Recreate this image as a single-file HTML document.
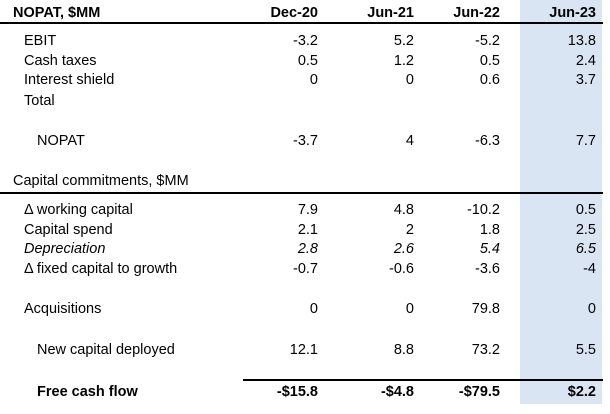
<!DOCTYPE html>
<html><head><style>
body{margin:0;width:610px;height:414px;background:#fff;font-family:"Liberation Sans",Arial,sans-serif;font-size:14.5px;color:#000;position:relative;overflow:hidden}
.hl{position:absolute;left:520px;top:0;width:82px;height:404px;background:#dae5f3}
.r{position:absolute;left:0;width:610px;height:18px}
.r span{position:absolute;top:0;line-height:18px;white-space:nowrap}
.l{left:24px}
.c1{right:292px}.c2{right:196px}.c3{right:110px}.c4{right:14px}
.b{font-weight:bold}.i{font-style:italic}
.line{position:absolute;background:#000}
</style></head><body>
<div class="hl"></div>
<div class="line" style="left:0;top:22px;width:603px;height:2px"></div>
<div class="line" style="left:0;top:192px;width:603px;height:2px"></div>
<div class="line" style="left:243px;top:379px;width:360px;height:2px"></div>

<div class="r b" style="top:4px"><span style="left:13px">NOPAT, $MM</span><span class="c1">Dec-20</span><span class="c2">Jun-21</span><span class="c3">Jun-22</span><span class="c4">Jun-23</span></div>
<div class="r" style="top:32px"><span class="l">EBIT</span><span class="c1">-3.2</span><span class="c2">5.2</span><span class="c3">-5.2</span><span class="c4">13.8</span></div>
<div class="r" style="top:52px"><span class="l">Cash taxes</span><span class="c1">0.5</span><span class="c2">1.2</span><span class="c3">0.5</span><span class="c4">2.4</span></div>
<div class="r" style="top:71px"><span class="l">Interest shield</span><span class="c1">0</span><span class="c2">0</span><span class="c3">0.6</span><span class="c4">3.7</span></div>
<div class="r" style="top:92px"><span class="l">Total</span></div>
<div class="r" style="top:132px"><span style="left:37px">NOPAT</span><span class="c1">-3.7</span><span class="c2">4</span><span class="c3">-6.3</span><span class="c4">7.7</span></div>
<div class="r" style="top:172px"><span style="left:13px">Capital commitments, $MM</span></div>
<div class="r" style="top:201px"><span class="l">Δ working capital</span><span class="c1">7.9</span><span class="c2">4.8</span><span class="c3">-10.2</span><span class="c4">0.5</span></div>
<div class="r" style="top:221px"><span class="l">Capital spend</span><span class="c1">2.1</span><span class="c2">2</span><span class="c3">1.8</span><span class="c4">2.5</span></div>
<div class="r i" style="top:240px"><span class="l">Depreciation</span><span class="c1">2.8</span><span class="c2">2.6</span><span class="c3">5.4</span><span class="c4">6.5</span></div>
<div class="r" style="top:260px"><span class="l">Δ fixed capital to growth</span><span class="c1">-0.7</span><span class="c2">-0.6</span><span class="c3">-3.6</span><span class="c4">-4</span></div>
<div class="r" style="top:300px"><span class="l">Acquisitions</span><span class="c1">0</span><span class="c2">0</span><span class="c3">79.8</span><span class="c4">0</span></div>
<div class="r" style="top:341px"><span style="left:37px">New capital deployed</span><span class="c1">12.1</span><span class="c2">8.8</span><span class="c3">73.2</span><span class="c4">5.5</span></div>
<div class="r b" style="top:383px"><span style="left:37px">Free cash flow</span><span class="c1">-$15.8</span><span class="c2">-$4.8</span><span class="c3">-$79.5</span><span class="c4">$2.2</span></div>
</body></html>
